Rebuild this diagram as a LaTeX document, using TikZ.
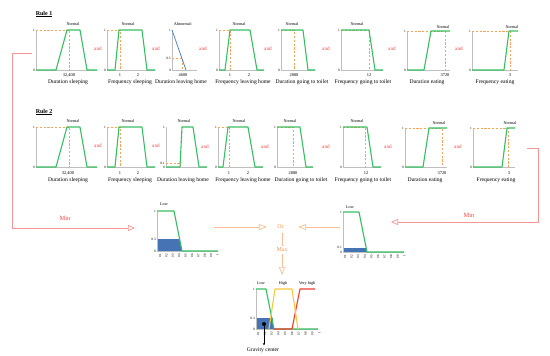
\documentclass[tikz,border=0pt]{standalone}
\usepackage{fontspec}
\setmainfont{Liberation Serif}
\usetikzlibrary{arrows.meta}
\definecolor{fgreen}{RGB}{55,190,100}
\definecolor{forange}{RGB}{245,165,90}
\definecolor{fpink}{RGB}{245,150,150}
\definecolor{fred}{RGB}{240,70,70}
\definecolor{fblue}{RGB}{80,130,210}
\definecolor{fbluefill}{RGB}{70,115,180}
\definecolor{fyellow}{RGB}{250,200,60}
\definecolor{fredl}{RGB}{240,60,50}
\definecolor{oarrow}{RGB}{250,190,150}
\definecolor{otext}{RGB}{245,150,80}
\newcommand\mfaxes[5]{% prefix, x0, top, bot, xend
  \draw[axisl] (#2,#3) -- (#2,#4) -- (#5,#4);
  \node[tick,anchor=east] (#1one) at (#2-0.8,#3) {1};
  \node[tick,anchor=east] (#1zero) at (#2-0.8,#4) {0};
}
\newcommand\xlabels[4]{% prefix, x start, step, y
  \foreach \v [count=\i from 0] in {0.1,0.2,0.3,0.4,0.5,0.6,0.7,0.8,0.9,1}{
    \node[tickr,rotate=90,anchor=east] (#1x\i) at (#2+#3*\i,#4) {\v};
  }
}
\begin{document}
\begin{tikzpicture}[x=1pt,y=-1pt,
  axisl/.style={draw=black!25, line width=0.5pt},
  mfg/.style={draw=fgreen, line width=1.1pt, line join=round},
  guide/.style={draw=forange, line width=0.6pt, dash pattern=on 2.2pt off 1.6pt},
  ttl/.style={font=\fontsize{4.2}{5}\selectfont, inner sep=0.3pt},
  tick/.style={font=\fontsize{3.4}{4}\selectfont, inner sep=0.3pt},
  tickr/.style={font=\fontsize{3.2}{4}\selectfont, inner sep=0.3pt},
  tickv/.style={font=\fontsize{4.4}{5}\selectfont, inner sep=0.3pt},
  lab/.style={font=\fontsize{5.6}{6}\selectfont, inner sep=0.3pt},
  andl/.style={text=fred, font=\fontsize{5.2}{6}\selectfont, inner sep=0.3pt},
  minl/.style={text=fred, font=\fontsize{6.4}{7}\selectfont, inner sep=0.3pt},
  rulel/.style={font=\fontsize{6}{7}\selectfont\bfseries, inner sep=0.3pt},
  pinkc/.style={draw=fpink, line width=0.7pt, -{Triangle[open,length=7pt,width=6pt]}},
  orc/.style={draw=oarrow, line width=0.7pt, -{Triangle[open,length=8pt,width=6pt]}},
  orl/.style={draw=oarrow, line width=0.7pt},
  ortext/.style={text=otext, font=\fontsize{6}{7}\selectfont, inner sep=0.3pt},
]
\useasboundingbox (0,0) rectangle (550,356);

% ================= RULE 1 =================
\node[rulel] (rule1) at (44,14) {\underline{Rule 1}};

% chart 1
\mfaxes{a1}{36}{30}{70}{97}
\draw[guide] (36,30) -- (69,30) -- (69,70);
\draw[mfg] (36,70) -- (56,70) -- (67,30) -- (80,30) -- (87,70) -- (97,70);
\node[ttl] (a1t) at (73,24) {Normal};
\node[tickv] (a1v) at (69,75) {32,400};
\node[lab] (a1l) at (68,82) {Duration sleeping};
\node[andl] (a1and) at (98,49) {and};

% chart 2
\mfaxes{a2}{107}{30}{70}{155}
\draw[guide] (107,30) -- (120,30) -- (120,70);
\draw[mfg] (107,70) -- (115,70) -- (119,30) -- (142,30) -- (147,70) -- (155,70);
\node[ttl] (a2t) at (128,24) {Normal};
\node[tickv] (a2v1) at (120,75) {1};
\node[tickv] (a2v2) at (138,75) {2};
\node[lab] (a2l) at (130,82) {Frequency sleeping};
\node[andl] (a2and) at (156,49) {and};

% chart 3
\mfaxes{a3}{172}{30}{70}{197}
\draw[guide] (172,58) -- (182,58) -- (182,70);
\draw[draw=fblue, line width=0.8pt] (172,30) -- (186,70);
\node[tick,anchor=east] (a3p) at (171,58) {0.3};
\node[ttl] (a3t) at (183,24) {Abnormal-};
\node[tickv] (a3v) at (183,75) {4600};
\node[lab] (a3l) at (181,82) {Duration leaving home};
\node[andl] (a3and) at (203,49) {and};

% chart 4
\mfaxes{a4}{219}{30}{70}{264}
\draw[guide] (219,30) -- (230,30) -- (230,70);
\draw[mfg] (219,70) -- (225,70) -- (230,30) -- (250,30) -- (257,70) -- (264,70);
\node[ttl] (a4t) at (239,24) {Normal};
\node[tickv] (a4v1) at (230,75) {1};
\node[tickv] (a4v2) at (249,75) {2};
\node[lab] (a4l) at (243,82) {Frequency leaving home};
\node[andl] (a4and) at (268,49) {and};

% chart 5
\mfaxes{a5}{281}{30}{70}{315}
\draw[guide] (281,30) -- (294,30) -- (294,70);
\draw[mfg] (281,30) -- (303,30) -- (308,70) -- (315,70);
\node[ttl] (a5t) at (292,24) {Normal};
\node[tickv] (a5v) at (294,75) {2880};
\node[lab] (a5l) at (302,82) {Duration going to toilet};
\node[andl] (a5and) at (326,49) {and};

% chart 6
\mfaxes{a6}{341}{30}{70}{383}
\draw[guide] (341,30) -- (369,30) -- (369,70);
\draw[mfg] (341,30) -- (369,30) -- (375,70) -- (383,70);
\node[ttl] (a6t) at (357,24) {Normal};
\node[tickv] (a6v) at (369,75) {12};
\node[lab] (a6l) at (363,82) {Frequency going to toilet};
\node[andl] (a6and) at (392,49) {and};

% chart 7
\mfaxes{a7}{407}{31}{70}{450}
\draw[guide] (407,31) -- (445,31) -- (445,70);
\draw[mfg] (407,70) -- (424,70) -- (431,31) -- (450,31);
\node[ttl] (a7t) at (443,27) {Normal};
\node[tickv] (a7v) at (445,75) {3720};
\node[lab] (a7l) at (427,82) {Duration eating};
\node[andl] (a7and) at (459,49) {and};

% chart 8
\mfaxes{a8}{472}{31}{70}{518}
\draw[guide] (472,31) -- (510,31) -- (510,70);
\draw[mfg] (472,70) -- (504,70) -- (509,31) -- (518,31);
\node[ttl] (a8t) at (512,27) {Normal};
\node[tickv] (a8v) at (510,75) {3};
\node[lab] (a8l) at (495,82) {Frequency eating};

% ================= RULE 2 =================
\node[rulel] (rule2) at (44,112) {\underline{Rule 2}};

% chart 1
\mfaxes{b1}{36}{127}{167}{97}
\draw[guide] (36,127) -- (69,127) -- (69,167);
\draw[mfg] (36,167) -- (56,167) -- (67,127) -- (80,127) -- (87,167) -- (97,167);
\node[ttl] (b1t) at (73,121) {Normal};
\node[tickv] (b1v) at (68,173) {32,400};
\node[lab] (b1l) at (68,180) {Duration sleeping};
\node[andl] (b1and) at (98,146) {and};

% chart 2
\mfaxes{b2}{107}{127}{167}{155}
\draw[guide] (107,127) -- (120,127) -- (120,167);
\draw[mfg] (107,167) -- (115,167) -- (119,127) -- (142,127) -- (147,167) -- (155,167);
\node[ttl] (b2t) at (128,121) {Normal};
\node[tickv] (b2v1) at (120,173) {1};
\node[tickv] (b2v2) at (138,173) {2};
\node[lab] (b2l) at (130,180) {Frequency sleeping};
\node[andl] (b2and) at (156,146) {and};

% chart 3
\mfaxes{b3}{166}{127}{167}{207}
\draw[guide] (166,163) -- (180,163) -- (180,167);
\draw[mfg] (166,167) -- (180,167) -- (182,127) -- (193,127) -- (199,167) -- (207,167);
\node[tick,anchor=east] (b3p) at (165,163) {0.1};
\node[ttl] (b3t) at (184,121) {Normal};
\node[lab] (b3l) at (183,180) {Duration leaving home};
\node[andl] (b3and) at (205,147) {and};

% chart 4
\mfaxes{b4}{218}{127}{167}{263}
\draw[guide] (218,127) -- (229,127) -- (229,167);
\draw[mfg] (218,167) -- (223,167) -- (228,127) -- (248,127) -- (255,167) -- (263,167);
\node[ttl] (b4t) at (239,121) {Normal};
\node[tickv] (b4v1) at (229,173) {1};
\node[tickv] (b4v2) at (248,173) {2};
\node[lab] (b4l) at (243,180) {Frequency leaving home};
\node[andl] (b4and) at (265,147) {and};

% chart 5
\mfaxes{b5}{277}{127}{167}{313}
\draw[guide] (277,127) -- (293,127) -- (293,167);
\draw[mfg] (277,127) -- (300,127) -- (306,167) -- (313,167);
\node[ttl] (b5t) at (290,121) {Normal};
\node[tickv] (b5v) at (293,173) {2880};
\node[lab] (b5l) at (301,180) {Duration going to toilet};
\node[andl] (b5and) at (326,147) {and};

% chart 6
\mfaxes{b6}{343}{127}{167}{381}
\draw[guide] (343,127) -- (365,127) -- (365,167);
\draw[mfg] (343,127) -- (367,127) -- (373,167) -- (381,167);
\node[ttl] (b6t) at (357,121) {Normal};
\node[tickv] (b6v) at (366,173) {12};
\node[lab] (b6l) at (363,180) {Frequency going to toilet};
\node[andl] (b6and) at (388,147) {and};

% chart 7
\mfaxes{b7}{405}{128}{167}{447}
\draw[guide] (405,128) -- (442,128) -- (442,167);
\draw[mfg] (405,167) -- (423,167) -- (429,128) -- (447,128);
\node[ttl] (b7t) at (439,123) {Normal};
\node[tickv] (b7v) at (442,173) {3720};
\node[lab] (b7l) at (425,180) {Duration eating};
\node[andl] (b7and) at (458,147) {and};

% chart 8
\mfaxes{b8}{473}{128}{167}{515}
\draw[guide] (473,128) -- (508,128) -- (508,167);
\draw[mfg] (473,167) -- (502,167) -- (507,128) -- (515,128);
\node[ttl] (b8t) at (510,123) {Normal};
\node[tickv] (b8v) at (509,173) {3};
\node[lab] (b8l) at (496,180) {Frequency eating};

% ================= aggregation =================
% left result chart
\fill[fbluefill] (157,251) -- (157,239) -- (179.6,239) -- (182,251) -- cycle;
\mfaxes{c1}{157}{211}{251}{218}
\draw[mfg] (157,211) -- (174,211) -- (182,251) -- (218,251);
\node[tick,anchor=east] (c1p) at (156.2,239) {0.3};
\node[ttl] (c1t) at (164,204) {Low};
\xlabels{c1}{160}{6.4}{253}

% right result chart
\fill[fbluefill] (343,252) -- (343,248) -- (366.2,248) -- (367,252) -- cycle;
\mfaxes{c2}{343}{212}{252}{404}
\draw[mfg] (343,212) -- (359,212) -- (367,252) -- (404,252);
\node[tick,anchor=east] (c2p) at (342.2,247.6) {0.1};
\node[ttl] (c2t) at (350,207) {Low};
\xlabels{c2}{345}{6.6}{254}

% pink Min connectors
\coordinate (p1s) at (32,53);
\coordinate (p1a) at (12,53);
\coordinate (p1b) at (12,228);
\coordinate (p1e) at (135,228);
\draw[pinkc] (p1s) -- (p1a) -- (p1b) -- (p1e);
\node[minl] (min1) at (65,218) {Min};
\coordinate (p2s) at (527,148);
\coordinate (p2a) at (538,148);
\coordinate (p2b) at (538,222);
\coordinate (p2e) at (391,222);
\draw[pinkc] (p2s) -- (p2a) -- (p2b) -- (p2e);
\node[minl] (min2) at (469,215) {Min};

% Or / Max
\node[ortext] (or) at (280.5,226.5) {Or};
\node[ortext] (max) at (282,250) {Max};
\coordinate (o1s) at (214,227);
\coordinate (o2s) at (340,227);
\coordinate (otip) at (282,275);
\draw[orc] (o1s) -- ([xshift=-10pt]or.west |- o1s);
\draw[orc] (o2s) -- ([xshift=14pt]or.east |- o2s);
\draw[orl] ([yshift=-4pt]or.south -| max) -- ([yshift=1.5pt]max.north);
\draw[orc] ([yshift=-1.5pt]max.south) -- (otip);

% final chart
\fill[fbluefill] (256,318) rectangle (273,329);
\mfaxes{d1}{256}{289}{329}{318}
\draw[mfg] (256,289) -- (266,289) -- (274,329) -- (318,329);
\draw[draw=fredl, line width=1.1pt, line join=round] (273,329) -- (292,329) -- (300,289) -- (315,289);
\draw[draw=fyellow, line width=1.1pt, line join=round] (269,329) -- (275,289) -- (292,289) -- (298,329);
\node[tick,anchor=east] (d1p) at (255.2,318) {0.3};
\node[ttl] (d1t1) at (261,283) {Low};
\node[ttl] (d1t2) at (283,283) {High};
\node[ttl] (d1t3) at (307,283) {Very high};
\xlabels{d1}{258}{6.8}{331}
\fill[black] (264,324) circle (2pt) coordinate (gc);
\node[lab,font=\fontsize{5.6}{6}\selectfont] (gcl) at (263,350) {Gravity center};
\coordinate (gce) at (264,345.5);
\draw[black, line width=0.5pt, -{Stealth[length=2.5pt,width=2pt]}] (gc) -- (gce);
\end{tikzpicture}
\end{document}
